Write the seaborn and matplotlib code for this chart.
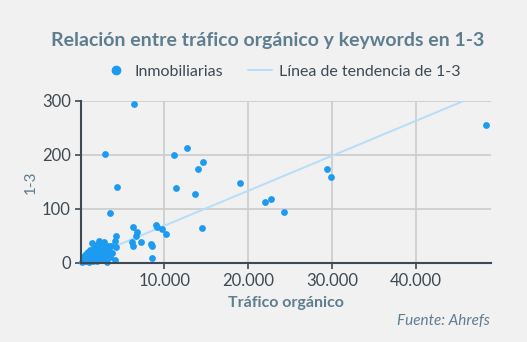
import matplotlib
matplotlib.use("Agg")
import matplotlib.pyplot as plt
from matplotlib.lines import Line2D
from matplotlib.ticker import FuncFormatter
import numpy as np
import pandas as pd
import seaborn as sns

# Organic traffic vs. number of keywords ranking in positions 1-3 (real-estate sites)
trafico = [
    6400, 2950, 4390, 3550, 12750, 11100, 14600, 13950, 11350, 13650,
    19050, 14500, 22050, 22750, 24300, 29350, 29900, 48400,
    6300, 6700, 6620, 6180, 6220, 7180, 8380, 8490, 8490, 9010, 9170, 9690, 10200,
    4250, 4070, 4230, 4110, 3750,
    150, 250, 300, 400, 500, 550, 600, 700, 750, 800, 850, 900, 950, 1000,
    1050, 1100, 1150, 1200, 1250, 1300, 1350, 1400, 1450, 1500, 1550, 1600,
    1650, 1700, 1750, 1800, 1850, 1900, 1950, 2000, 2050, 2100, 2150, 2230,
    2300, 2350, 2400, 2500, 2550, 2650, 2750, 2830, 2900, 3000, 3100, 3230,
    3350, 3500, 3590, 3630,
]
keywords_1_3 = [
    293, 202, 140, 93, 212, 199, 187, 174, 139, 128,
    147, 64, 113, 119, 94, 173, 158, 255,
    66, 58, 49, 39, 32, 38, 36, 32, 10, 70, 66, 63, 54,
    50, 41, 29, 5, 18,
    2, 5, 8, 12, 3, 15, 7, 10, 18, 4, 13, 20, 8, 2,
    16, 11, 24, 6, 19, 14, 9, 37, 22, 4, 27, 12,
    17, 30, 8, 21, 32, 14, 26, 3, 18, 35, 10, 41,
    23, 15, 29, 6, 20, 33, 12, 38, 25, 17, 2, 31,
    22, 11, 18, 31,
]

# Linear trend line of the 1-3 keywords (slope per visit, intercept)
tendencia_pendiente = 0.00645
tendencia_origen = 4.4

x_ticks = [10000, 20000, 30000, 40000]
y_ticks = [0, 100, 200, 300]

titulo = "Relación entre tráfico orgánico y keywords en 1-3"
serie = "Inmobiliarias"
tendencia = "Línea de tendencia de 1-3"
fuente = "Fuente: Ahrefs"

df = pd.DataFrame({"Tráfico orgánico": trafico, "1-3": keywords_1_3})
x_trend = np.array([min(trafico), max(trafico)], dtype=float)
df_trend = pd.DataFrame({"x": x_trend,
                         "y": tendencia_origen + tendencia_pendiente * x_trend})

BG = "#f1f1f1"
DOT = "#1d9bf0"
TREND = "#b5def7"
DARK = "#3e4a53"
SLATE = "#5e7d8e"
GRID = "#cbcbcb"

sns.set_theme(style="white")
plt.rcParams["font.family"] = ["Lato", "DejaVu Sans"]

fig = plt.figure(figsize=(5.27, 3.42), dpi=100, facecolor=BG)
ax = fig.add_axes([0.153, 0.231, 0.779, 0.475], facecolor=BG)

sns.lineplot(data=df_trend, x="x", y="y", color=TREND, lw=1.4, zorder=2, ax=ax)
sns.scatterplot(data=df, x="Tráfico orgánico", y="1-3", color=DOT, s=24,
                linewidth=0, ax=ax, zorder=3, clip_on=False)

ax.set_xlim(0, 49000)
ax.set_ylim(0, 300)
ax.set_xticks(x_ticks)
ax.set_yticks(y_ticks)
ax.xaxis.set_major_formatter(FuncFormatter(lambda v, p: f"{int(v):,}".replace(",", ".")))

ax.grid(True, color=GRID, lw=1.2)
ax.set_axisbelow(True)
for s in ("top", "right"):
    ax.spines[s].set_visible(False)
for s in ("left", "bottom"):
    ax.spines[s].set_color(DARK)
    ax.spines[s].set_linewidth(1.5)
    ax.spines[s].set_zorder(4)

ax.tick_params(axis="both", colors=DARK, labelsize=12, length=4, width=1.2,
               direction="out", bottom=True, left=True, pad=3)

ax.set_xlabel("Tráfico orgánico", color=SLATE, fontsize=11.5, fontweight="bold", labelpad=5)
ax.set_ylabel("1-3", color=SLATE, fontsize=11, labelpad=3)

fig.text(0.508, 0.883, titulo, ha="center", va="center", fontsize=14,
         fontweight="bold", color=SLATE)
fig.text(0.93, 0.062, fuente, ha="right", va="center", fontsize=11,
         style="italic", color=SLATE)

handles = [
    Line2D([], [], marker="o", ls="none", color=DOT, markersize=6),
    Line2D([], [], color=TREND, lw=1.4),
]
fig.legend(handles, [serie, tendencia], loc="center", bbox_to_anchor=(0.535, 0.79),
           ncol=2, frameon=False, fontsize=11.5, labelcolor=DARK,
           handlelength=1.5, handletextpad=0.4, columnspacing=1.6)

fig.savefig("out.png", dpi=100, facecolor=BG)
